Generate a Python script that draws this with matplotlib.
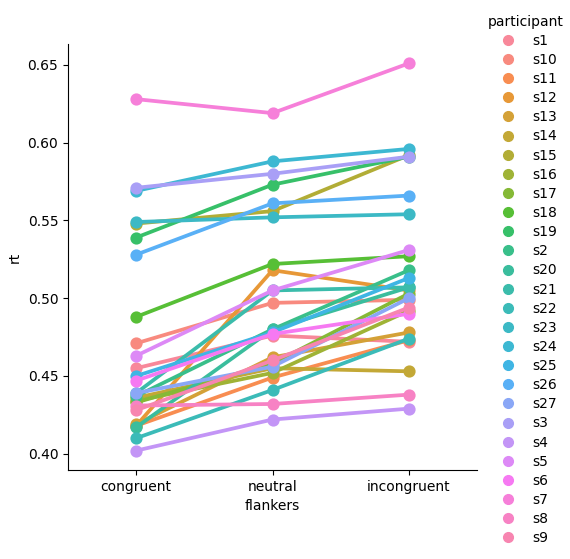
import numpy as np
import pandas as pd
import matplotlib
matplotlib.use("Agg")
import matplotlib.pyplot as plt
from matplotlib.lines import Line2D
import seaborn as sns

# mean rt per participant and flanker condition
participants = ['s1', 's10', 's11', 's12', 's13', 's14', 's15', 's16', 's17',
                's18', 's19', 's2', 's20', 's21', 's22', 's23', 's24', 's25',
                's26', 's27', 's3', 's4', 's5', 's6', 's7', 's8', 's9']
flankers = ['congruent', 'neutral', 'incongruent']

rt_congruent = [0.455, 0.471, 0.418, 0.418, 0.419, 0.436, 0.548, 0.434, 0.433,
                0.488, 0.539, 0.437, 0.417, 0.439, 0.410, 0.549, 0.569, 0.450,
                0.528, 0.439, 0.571, 0.402, 0.463, 0.447, 0.628, 0.431, 0.428]
rt_neutral = [0.476, 0.497, 0.449, 0.518, 0.462, 0.455, 0.556, 0.452, 0.458,
              0.522, 0.573, 0.480, 0.480, 0.505, 0.441, 0.552, 0.588, 0.478,
              0.561, 0.456, 0.580, 0.422, 0.505, 0.477, 0.619, 0.432, 0.460]
rt_incongruent = [0.472, 0.499, 0.473, 0.505, 0.478, 0.453, 0.592, 0.492, 0.503,
                  0.527, 0.591, 0.518, 0.507, 0.507, 0.474, 0.554, 0.596, 0.513,
                  0.566, 0.500, 0.591, 0.429, 0.531, 0.490, 0.651, 0.438, 0.494]

rows = []
for i, p in enumerate(participants):
    for f, vals in zip(flankers, [rt_congruent, rt_neutral, rt_incongruent]):
        rows.append({'participant': p, 'flankers': f, 'rt': vals[i]})
df = pd.DataFrame(rows)

palette = sns.husl_palette(len(participants), h=.01, s=.9, l=.7)

fig = plt.figure(figsize=(5.7, 5.59), dpi=100)
ax = fig.add_axes([68 / 570, 1 - 470 / 559, 409 / 570, 426 / 559])
sns.pointplot(data=df, x='flankers', y='rt', hue='participant',
              hue_order=participants, order=flankers, palette=palette,
              errorbar=None, ax=ax)
ax.get_legend().remove()
ax.set_yticks([0.40, 0.45, 0.50, 0.55, 0.60, 0.65])
ax.spines['top'].set_visible(False)
ax.spines['right'].set_visible(False)

# marker-only legend like older seaborn
handles = [Line2D([], [], linestyle='none', marker='o', markersize=7,
                  color=c) for c in palette]
fig.legend(handles, participants, title='participant', frameon=False,
           loc='upper left', bbox_to_anchor=(482 / 570, 1 - 9 / 559),
           handletextpad=0.8, labelspacing=0.37, borderaxespad=0)

plt.savefig('out.png', dpi=100)
